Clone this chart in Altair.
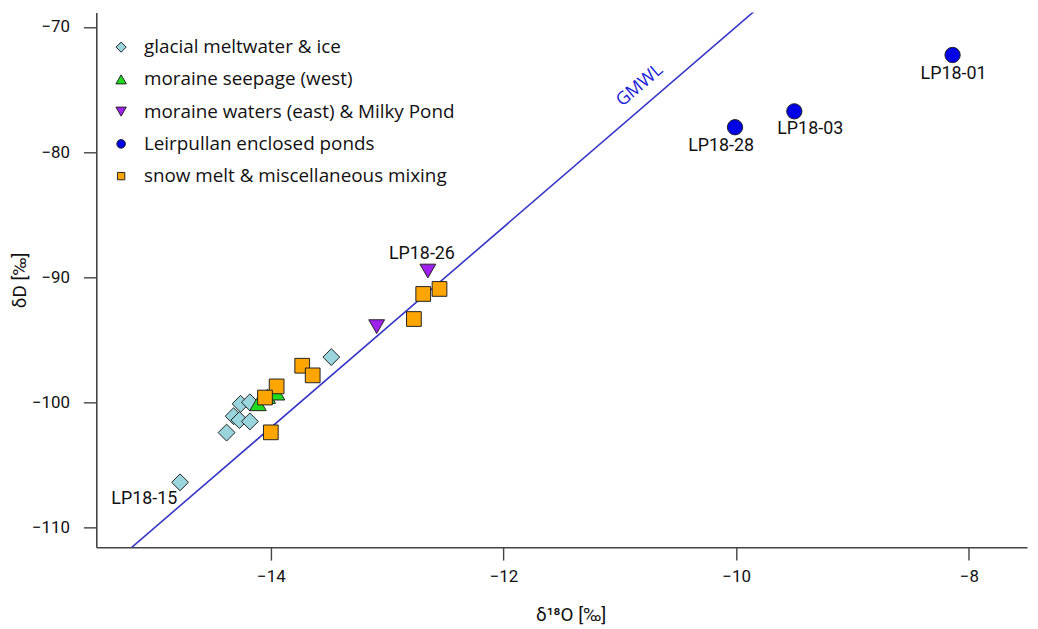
import altair as alt
import pandas as pd

# ---------------- data ----------------
groups = [
    "glacial meltwater & ice",
    "moraine seepage (west)",
    "moraine waters (east) & Milky Pond",
    "Leirpullan enclosed ponds",
    "snow melt & miscellaneous mixing",
]

glacial_d18o = [-14.78, -14.38, -14.32, -14.27, -14.18, -14.26, -14.18, -13.48]
glacial_dD = [-106.37, -102.40, -101.09, -101.40, -101.51, -100.10, -99.98, -96.37]
glacial_id = ["LP18-15", "", "", "", "", "", "", ""]

seepage_d18o = [-14.11, -14.03, -13.95]
seepage_dD = [-100.08, -99.50, -99.23]
seepage_id = ["", "", ""]

east_d18o = [-13.09, -12.65]
east_dD = [-93.94, -89.50]
east_id = ["", "LP18-26"]

ponds_d18o = [-8.14, -9.50, -10.01]
ponds_dD = [-72.25, -76.75, -78.02]
ponds_id = ["LP18-01", "LP18-03", "LP18-28"]

snow_d18o = [-12.77, -13.73, -13.64, -13.95, -14.05, -14.00, -12.69, -12.55]
snow_dD = [-93.33, -97.06, -97.83, -98.71, -99.60, -102.38, -91.33, -90.93]
snow_id = ["", "", "", "", "", "", "", ""]

gmwl_d18o = [-15.21, -9.84]
gmwl_dD = [-111.68, -68.72]

x_ticks = [-14, -12, -10, -8]
y_ticks = [-110, -100, -90, -80, -70]

# ---------------- tables ----------------
rows = []
for g, xs, ys, ids in [
    (groups[0], glacial_d18o, glacial_dD, glacial_id),
    (groups[1], seepage_d18o, seepage_dD, seepage_id),
    (groups[2], east_d18o, east_dD, east_id),
    (groups[3], ponds_d18o, ponds_dD, ponds_id),
    (groups[4], snow_d18o, snow_dD, snow_id),
]:
    for xv, yv, i in zip(xs, ys, ids):
        rows.append({"group": g, "d18O": xv, "dD": yv, "id": i})
df = pd.DataFrame(rows)
df["order"] = range(len(df))
df["sgroup"] = df["group"]
gm = pd.DataFrame({"d18O": gmwl_d18o, "dD": gmwl_dD})

# ---------------- style ----------------
FONT = "Roboto"
LFONT = "Open Sans"
fills = ["#9ad4dc", "#1fdc1f", "#a020f0", "#0000e6", "#ffa500"]
shapes = ["diamond", "triangle-up", "triangle-down", "circle", "square"]
sizes = [290, 220, 290, 85, 100]
legend_sizes = [105, 110, 110, 75, 55]

xscale = alt.Scale(domain=[-15.5, -7.5], nice=False, zero=False)
yscale = alt.Scale(domain=[-111.55, -68.85], nice=False, zero=False)

xaxis = alt.Axis(values=x_ticks, format="d", title="δ¹⁸O [‰]", grid=False,
                 labelPadding=9, titleX=478, titleY=68, titleBaseline="middle")
yaxis = alt.Axis(values=y_ticks, format="d", title="δD [‰]", grid=False,
                 labelPadding=14, titleX=-77, titleBaseline="middle")

base = alt.Chart(df)

points = base.mark_point(filled=True, stroke="#222", strokeWidth=1, opacity=1).encode(
    x=alt.X("d18O:Q", scale=xscale, axis=xaxis),
    y=alt.Y("dD:Q", scale=yscale, axis=yaxis),
    fill=alt.Fill("group:N", scale=alt.Scale(domain=groups, range=fills), legend=None),
    shape=alt.Shape("group:N", scale=alt.Scale(domain=groups, range=shapes), legend=None),
    size=alt.Size("sgroup:N", scale=alt.Scale(domain=groups, range=sizes), legend=None),
    order=alt.Order("order:Q"),
)

line = alt.Chart(gm).mark_line(color="#3535c8", strokeWidth=1.6, clip=True).encode(
    x=alt.X("d18O:Q", scale=xscale),
    y=alt.Y("dD:Q", scale=yscale),
)

gm_top = gm.iloc[[1]]
gmwl_text = alt.Chart(gm_top).mark_text(
    text="GMWL", angle=319.5, color="#2020d8", fontSize=18, font=LFONT,
    dx=-137, dy=-18,
).encode(x=alt.X("d18O:Q", scale=xscale), y=alt.Y("dD:Q", scale=yscale))

label_offsets = {
    "LP18-15": (-36, 17),
    "LP18-26": (-6, -17),
    "LP18-01": (1, 19),
    "LP18-03": (16, 18),
    "LP18-28": (-14, 19),
}
label_layers = []
for name, (ddx, ddy) in label_offsets.items():
    label_layers.append(
        base.transform_filter(alt.datum.id == name).mark_text(
            fontSize=18, font=FONT, color="#111", dx=ddx, dy=ddy, baseline="middle"
        ).encode(
            x=alt.X("d18O:Q", scale=xscale),
            y=alt.Y("dD:Q", scale=yscale),
            text="id:N",
        )
    )

# legend (top-left, inside the plot)
legend_layers = []
for i, g in enumerate(groups):
    ldf = pd.DataFrame({"label": [g]})
    yy = 35 + 32.5 * i
    legend_layers.append(
        alt.Chart(ldf).mark_point(
            filled=True, shape=shapes[i], fill=fills[i], size=legend_sizes[i],
            stroke="#222", strokeWidth=1, opacity=1,
        ).encode(x=alt.value(25), y=alt.value(yy))
    )
    legend_layers.append(
        alt.Chart(ldf).mark_text(
            align="left", baseline="middle", fontSize=19, font=LFONT, color="#111",
        ).encode(x=alt.value(48), y=alt.value(yy), text="label:N")
    )

chart = alt.layer(line, gmwl_text, points, *label_layers, *legend_layers).properties(
    width=938, height=539,
    autosize=alt.AutoSizeParams(type="none"),
    padding={"left": 89, "top": 2, "right": 3, "bottom": 80},
).configure_view(stroke=None).configure_axis(
    domainColor="#444", domainWidth=1.6, tickColor="#444", tickWidth=1.4, tickSize=13,
    labelFont=FONT, labelFontSize=17, labelColor="#111",
    titleFont=FONT, titleFontSize=19, titleFontWeight="normal", titleColor="#111",
)

chart.save("out.html", embed_options={"renderer": "svg", "actions": False})
